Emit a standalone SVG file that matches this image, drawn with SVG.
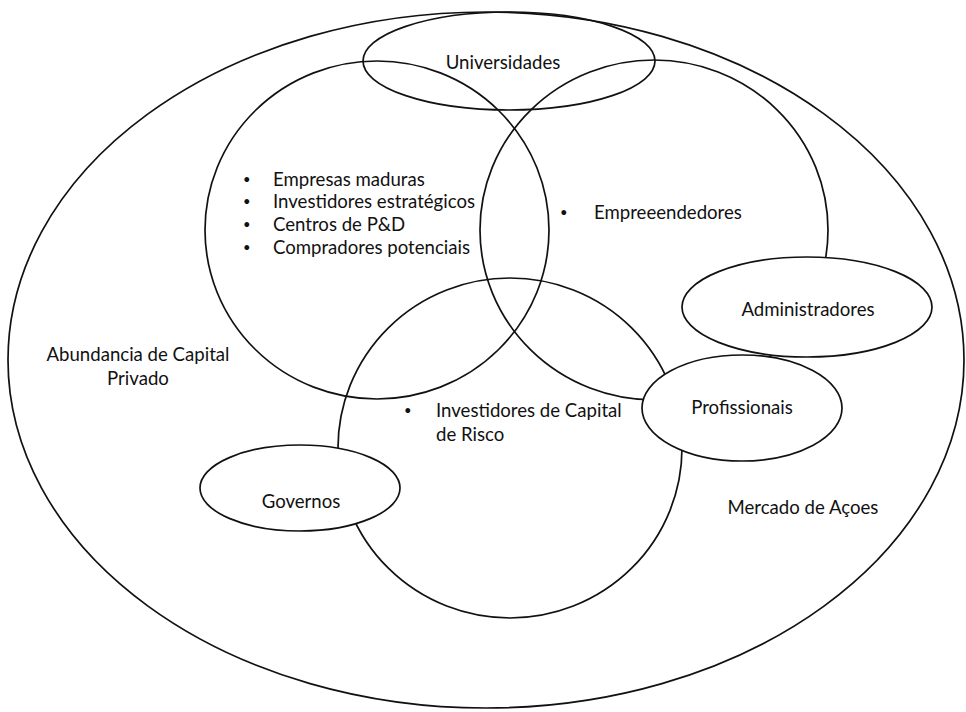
<svg xmlns="http://www.w3.org/2000/svg" width="966" height="712" viewBox="0 0 966 712">
  <style>
    .ring { fill: none; stroke: #111; stroke-width: 1.7; }
    .tag { fill: #fff; stroke: #111; stroke-width: 1.7; }
    text { font-family: Lato, "Open Sans", sans-serif; font-size: 18.6px; fill: #111; }
    .c { text-anchor: middle; }
    .dot { font-size: 13px; }
  </style>
  <rect width="966" height="712" fill="#fff"/>

  <g id="mercado">
    <ellipse class="ring" cx="486" cy="360" rx="478" ry="348"/>
    <text x="803" y="514" class="c">Mercado de Açoes</text>
  </g>

  <g id="capital-privado">
    <text x="138" y="361" class="c">Abundancia de Capital</text>
    <text x="138" y="385" class="c">Privado</text>
  </g>

  <g id="universidades">
    <ellipse class="ring" cx="509" cy="61" rx="146" ry="49"/>
    <text x="503" y="69" class="c">Universidades</text>
  </g>

  <g id="empresas">
    <ellipse class="ring" cx="377" cy="230" rx="172" ry="169"/>
    <g>
      <text x="243" y="184" class="dot">•</text><text x="273" y="186">Empresas maduras</text>
      <text x="243" y="206" class="dot">•</text><text x="273" y="208">Investidores estratégicos</text>
      <text x="243" y="229" class="dot">•</text><text x="273" y="231">Centros de P&amp;D</text>
      <text x="243" y="252" class="dot">•</text><text x="273" y="254">Compradores potenciais</text>
    </g>
  </g>

  <g id="empreendedores">
    <ellipse class="ring" cx="654" cy="230" rx="174" ry="170"/>
    <text x="560" y="217" class="dot">•</text><text x="594" y="219">Empreeendedores</text>
  </g>

  <g id="capital-risco">
    <ellipse class="ring" cx="510" cy="448" rx="172" ry="170"/>
    <text x="404" y="415" class="dot">•</text><text x="436" y="417">Investidores de Capital</text>
    <text x="436" y="441">de Risco</text>
  </g>

  <g id="administradores">
    <ellipse class="tag" cx="807" cy="307" rx="125" ry="50"/>
    <text x="808" y="316" class="c">Administradores</text>
  </g>

  <g id="profissionais">
    <ellipse class="tag" cx="742" cy="408" rx="100" ry="53"/>
    <text x="742" y="414" class="c">Profissionais</text>
  </g>

  <g id="governos">
    <ellipse class="tag" cx="300" cy="488" rx="100" ry="43"/>
    <text x="301" y="508" class="c">Governos</text>
  </g>

  <g id="connectors"/>
</svg>
